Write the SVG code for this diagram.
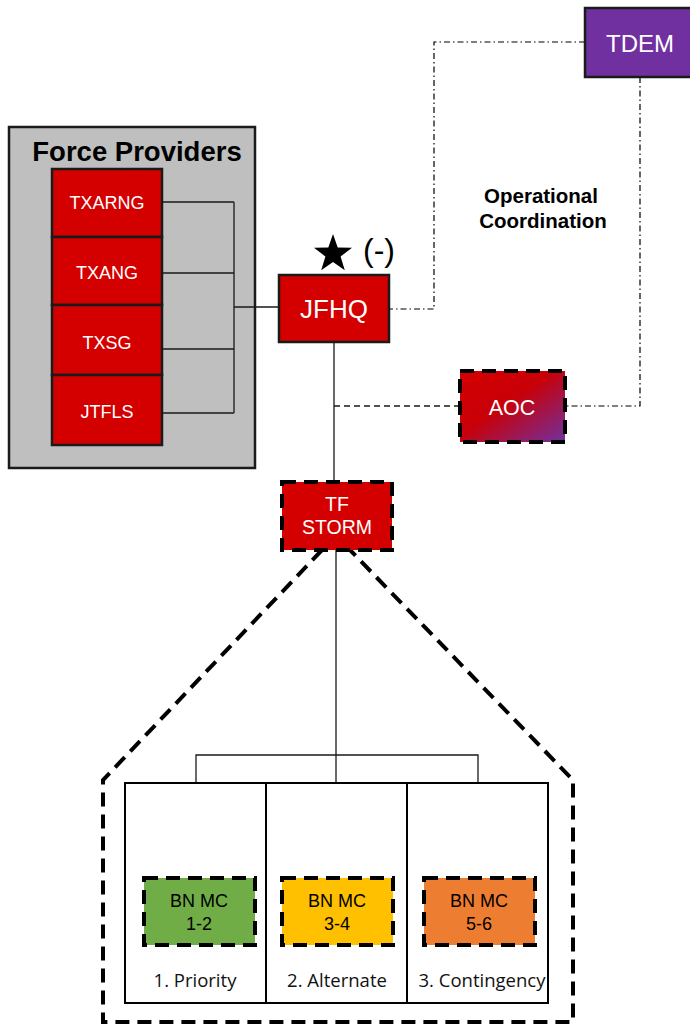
<svg xmlns="http://www.w3.org/2000/svg" width="690" height="1027" viewBox="0 0 690 1027">
<defs>
<linearGradient id="aocGrad" x1="0" y1="0" x2="1" y2="1">
<stop offset="0" stop-color="#d40000"/>
<stop offset="0.45" stop-color="#c80008"/>
<stop offset="1" stop-color="#7030a0"/>
</linearGradient>
<style>
.red{fill:#d40000;stroke:#1a1a1a;stroke-width:2.5}
.wt{fill:#ffffff;font-family:"Liberation Sans",Arial,sans-serif;text-anchor:middle}
.bk{fill:#000000;font-family:"Liberation Sans",Arial,sans-serif;text-anchor:middle}
.ln{fill:none;stroke:#1a1a1a;stroke-width:1.3}
.dd{fill:none;stroke:#000;stroke-width:1.2;stroke-dasharray:6 3 1.5 3}
.dsh{fill:none;stroke:#000;stroke-width:4;stroke-dasharray:14 8}
.lbl{fill:#111;font-family:"Open Sans","Liberation Sans",sans-serif;font-size:18.5px;text-anchor:middle}
</style>
</defs>
<rect width="690" height="1027" fill="#ffffff"/>

<g id="force-providers">
<rect x="9" y="127" width="246" height="341" fill="#bfbfbf" stroke="#1a1a1a" stroke-width="2.5"/>
<text class="bk" x="137" y="161" font-size="27.5" font-weight="bold">Force Providers</text>
</g>

<g id="connectors">
<path class="ln" d="M162 202H234M162 273H234M162 349H234M162 413H234M234 202V413M234 307H279"/>
<path class="ln" d="M334 342V482"/>
<path d="M334 406H460" fill="none" stroke="#1a1a1a" stroke-width="1.3" stroke-dasharray="6 4"/>
<path class="dd" d="M585 42H434V309H389"/>
<path class="dd" d="M640 77V406H565"/>
<path class="ln" d="M336 550V782M196 782V755H478V782"/>
<path class="dsh" d="M322 550L103 780V1022H573V780L350 550"/>
</g>

<g id="txarng"><rect class="red" x="52" y="169" width="110" height="68"/><text class="wt" x="107" y="209" font-size="18">TXARNG</text></g>
<g id="txang"><rect class="red" x="52" y="237" width="110" height="68"/><text class="wt" x="107" y="279" font-size="18">TXANG</text></g>
<g id="txsg"><rect class="red" x="52" y="305" width="110" height="70"/><text class="wt" x="107" y="349" font-size="18">TXSG</text></g>
<g id="jtfls"><rect class="red" x="52" y="375" width="110" height="70"/><text class="wt" x="107" y="418" font-size="18">JTFLS</text></g>

<g id="jfhq">
<rect class="red" x="279" y="275" width="110" height="67"/>
<text class="wt" x="334" y="318" font-size="26">JFHQ</text>
<polygon fill="#000" points="333,234 337.7,247.5 352,247.8 340.6,256.5 344.8,270.2 333,262 321.2,270.2 325.4,256.5 314,247.8 328.3,247.5"/>
<text class="bk" x="379" y="261" font-size="32">(-)</text>
</g>

<g id="tdem">
<rect x="585" y="8" width="110" height="69" fill="#7030a0" stroke="#1a1a1a" stroke-width="2.5"/>
<text class="wt" x="640" y="52" font-size="24">TDEM</text>
</g>

<g id="op-coord">
<text class="bk" x="541" y="203" font-size="20.5" font-weight="bold">Operational</text>
<text class="bk" x="543" y="228" font-size="20.5" font-weight="bold">Coordination</text>
</g>

<g id="aoc">
<rect x="460" y="371" width="105" height="71" fill="url(#aocGrad)" stroke="#000" stroke-width="4" stroke-dasharray="14 8"/>
<text class="wt" x="512" y="415" font-size="21.5">AOC</text>
</g>

<g id="tf-storm">
<rect x="282" y="482" width="110" height="68" fill="#d40000" stroke="#000" stroke-width="4" stroke-dasharray="14 8"/>
<text class="wt" x="337" y="511" font-size="19.5">TF</text>
<text class="wt" x="337" y="534" font-size="19.5">STORM</text>
</g>

<g id="options">
<rect x="125" y="783" width="423" height="220" fill="#fff" stroke="#000" stroke-width="2"/>
<path d="M266 783V1003M407 783V1003" stroke="#000" stroke-width="2"/>
<text class="lbl" x="195" y="987">1. Priority</text>
<text class="lbl" x="337" y="987">2. Alternate</text>
<text class="lbl" x="482" y="987">3. Contingency</text>
</g>

<g id="bn-mc-1-2">
<rect x="144" y="878" width="111" height="67" fill="#70ad47" stroke="#000" stroke-width="4" stroke-dasharray="14 8"/>
<text class="bk" x="199" y="907" font-size="18">BN MC</text>
<text class="bk" x="199" y="930" font-size="18">1-2</text>
</g>
<g id="bn-mc-3-4">
<rect x="282" y="878" width="111" height="67" fill="#ffc000" stroke="#000" stroke-width="4" stroke-dasharray="14 8"/>
<text class="bk" x="337" y="907" font-size="18">BN MC</text>
<text class="bk" x="337" y="930" font-size="18">3-4</text>
</g>
<g id="bn-mc-5-6">
<rect x="424" y="878" width="111" height="67" fill="#ed7d31" stroke="#000" stroke-width="4" stroke-dasharray="14 8"/>
<text class="bk" x="479" y="907" font-size="18">BN MC</text>
<text class="bk" x="479" y="930" font-size="18">5-6</text>
</g>
</svg>
